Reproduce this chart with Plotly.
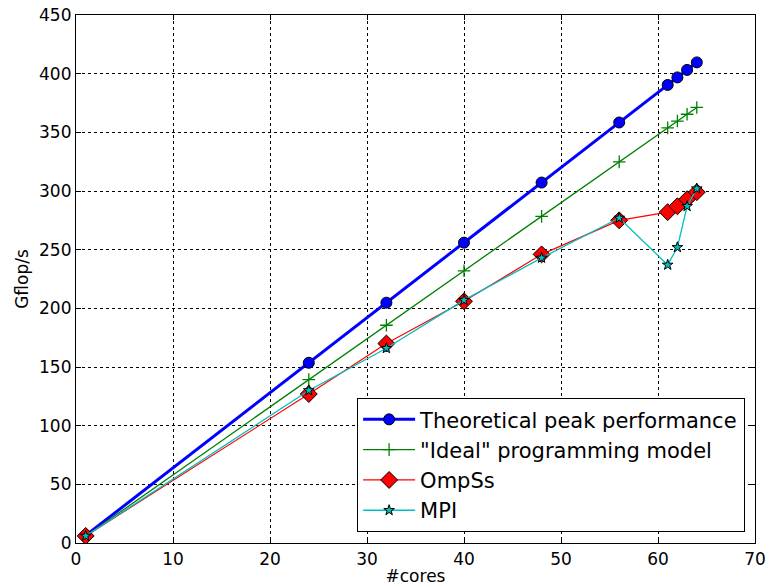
import plotly.graph_objects as go

cores = [1, 24, 32, 40, 48, 56, 61, 62, 63, 64]
peak = [6.4, 153.6, 204.8, 256.0, 307.2, 358.4, 390.4, 396.8, 403.2, 409.6]
ideal = [5.8, 139.2, 185.6, 232.0, 278.4, 324.8, 353.8, 359.6, 365.4, 371.2]
ompss = [6.0, 127.0, 170.0, 206.0, 246.0, 275.0, 282.0, 287.0, 293.0, 299.0]
mpi = [6.0, 130.0, 166.0, 207.0, 243.0, 277.0, 237.0, 252.0, 287.0, 302.0]

x_ticks = [0, 10, 20, 30, 40, 50, 60, 70]
y_ticks = [0, 50, 100, 150, 200, 250, 300, 350, 400, 450]

fig = go.Figure()
fig.add_trace(go.Scatter(
    x=cores, y=peak, mode="lines+markers", name="Theoretical peak performance",
    line=dict(color="#0000FF", width=3),
    marker=dict(symbol="circle", size=11, color="#0000FF", line=dict(color="black", width=1)),
))
fig.add_trace(go.Scatter(
    x=cores, y=ideal, mode="lines+markers", name='"Ideal" programming model',
    line=dict(color="#008000", width=1.3),
    marker=dict(symbol="cross-thin-open", size=9, color="#008000", line=dict(color="#008000", width=1.3)),
))
fig.add_trace(go.Scatter(
    x=cores, y=ompss, mode="lines+markers", name="OmpSs",
    line=dict(color="#FF0000", width=1.2),
    marker=dict(symbol="diamond", size=13, color="#FF0000", line=dict(color="black", width=1)),
))
fig.add_trace(go.Scatter(
    x=cores, y=mpi, mode="lines+markers", name="MPI",
    line=dict(color="#00BFBF", width=1.3),
    marker=dict(symbol="star", size=8, color="#00BFBF", line=dict(color="black", width=1)),
))

axis_common = dict(
    showline=True, linecolor="black", linewidth=1.2, mirror="allticks",
    ticks="inside", ticklen=5, tickcolor="black",
    showgrid=True, gridcolor="black", griddash="dot", gridwidth=1,
    zeroline=False, automargin=False, ticklabeloverflow="allow",
    tickfont=dict(family="DejaVu Sans", size=17, color="black"),
)

fig.update_xaxes(range=[0, 70], tickvals=x_ticks, ticktext=[str(v) for v in x_ticks],
                 title=dict(text="#cores", font=dict(family="DejaVu Sans", size=17, color="black"), standoff=2),
                 **axis_common)
fig.update_yaxes(range=[0, 450], tickvals=y_ticks, ticktext=[str(v) for v in y_ticks],
                 title=dict(text="Gflop/s", font=dict(family="DejaVu Sans", size=17, color="black"), standoff=6),
                 **axis_common)

fig.update_layout(
    width=769, height=588,
    margin=dict(l=76, r=14, t=15, b=45),
    paper_bgcolor="white", plot_bgcolor="white",
    font=dict(family="DejaVu Sans", color="black"),
    legend=dict(
        x=0.985, y=0.021, xanchor="right", yanchor="bottom",
        bgcolor="white", bordercolor="black", borderwidth=1.3,
        font=dict(family="DejaVu Sans", size=21, color="black"),
        itemwidth=52,
    ),
)

fig.write_html(
    "out.html",
    config={"displayModeBar": False},
    post_script="document.body.style.margin='0';document.body.style.overflow='hidden';",
)
